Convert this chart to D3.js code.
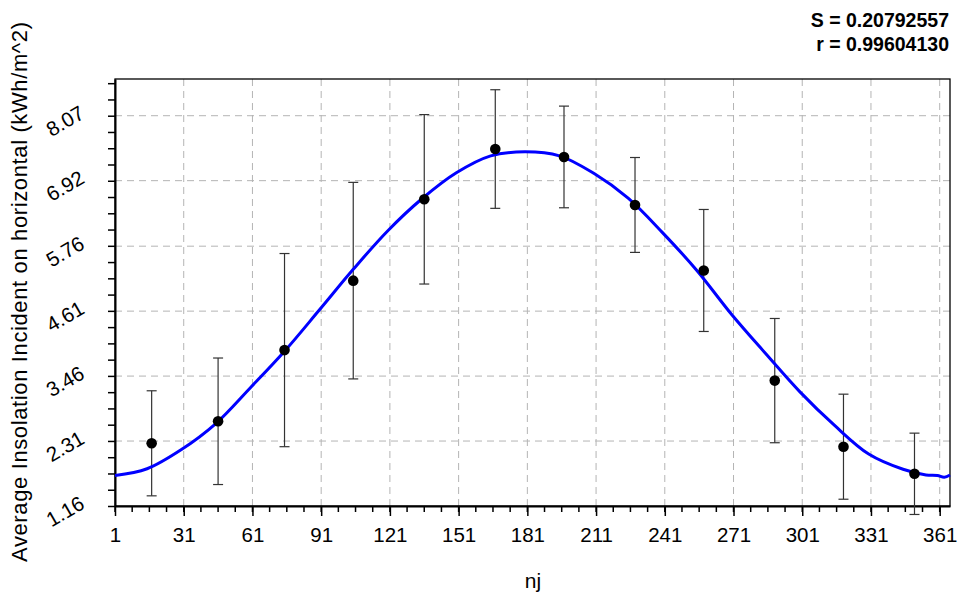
<!DOCTYPE html>
<html>
<head>
<meta charset="utf-8">
<script src="https://cdn.jsdelivr.net/npm/d3@7"></script>
<style>
body{margin:0;background:#fff;}
text{font-family:"Liberation Sans",Arial,Helvetica,sans-serif;fill:#000;}
</style>
</head>
<body>
<svg id="chart" width="958" height="593"></svg>
<script>
// monthly measurements (day of year, mean, +/- error)
var days  = [17, 46, 75, 105, 136, 167, 197, 228, 258, 289, 319, 350];
var means = [2.27, 2.66, 3.92, 5.15, 6.59, 7.48, 7.34, 6.49, 5.33, 3.38, 2.21, 1.73];
var errs  = [0.93, 1.12, 1.71, 1.74, 1.50, 1.05, 0.90, 0.84, 1.08, 1.10, 0.93, 0.72];

// fitted curve
var fitDays   = [1, 15, 30, 45, 60, 75, 90, 105, 120, 135, 150, 165, 180, 195, 210, 225, 240, 255, 270, 285, 300, 315, 330, 345, 355, 360, 363, 365.5];
var fitValues = [1.70, 1.82, 2.16, 2.62, 3.25, 3.90, 4.62, 5.35, 6.03, 6.60, 7.06, 7.36, 7.43, 7.36, 7.05, 6.61, 6.00, 5.33, 4.56, 3.86, 3.18, 2.59, 2.08, 1.81, 1.71, 1.70, 1.67, 1.71];

var xTicks = [1, 31, 61, 91, 121, 151, 181, 211, 241, 271, 301, 331, 361];
var yTicks = [1.16, 2.31, 3.46, 4.61, 5.76, 6.92, 8.07];
var statLines = ["S = 0.20792557", "r = 0.99604130"];
var xTitle = "nj";
var yTitle = "Average Insolation Incident on horizontal (kWh/m^2)";

var plotL = 115, plotT = 79, plotR = 950, plotB = 506;
var svg = d3.select("#chart");

var x = d3.scaleLinear().domain([1, 365.5]).range([plotL, plotR]);
var y = d3.scaleLinear().domain([1.16, 8.72]).range([plotB, plotT]);

// minor ticks: quarters between majors
var xMinor = d3.range(1, 365.5, 7.5);
var yStep = (yTicks[yTicks.length-1] - yTicks[0]) / (yTicks.length - 1);
var yMinor = d3.range(0, 27).map(function(k){ return 1.16 + k * yStep / 4; });

// grid
var grid = svg.append("g").attr("stroke", "#b4b4b4").attr("stroke-width", 1).attr("stroke-dasharray", "7,5");
grid.selectAll("line.v").data(xTicks.slice(1)).enter().append("line")
  .attr("x1", d => x(d)).attr("x2", d => x(d)).attr("y1", plotT).attr("y2", plotB);
grid.selectAll("line.h").data(yTicks.slice(1)).enter().append("line")
  .attr("x1", plotL).attr("x2", plotR).attr("y1", d => y(d)).attr("y2", d => y(d));

// frame
svg.append("rect").attr("x", plotL).attr("y", plotT).attr("width", plotR-plotL).attr("height", plotB-plotT)
  .attr("fill", "none").attr("stroke", "#000").attr("stroke-width", 1.3);

// x axis
var xAxis = d3.axisBottom(x).tickValues(xTicks).tickSize(10).tickSizeOuter(0).tickPadding(11).tickFormat(d3.format("d"));
var gx = svg.append("g").attr("transform", "translate(0," + plotB + ")").call(xAxis)
  .attr("font-size", 20.5).attr("font-family", null);
gx.select(".domain").attr("stroke-width", 2);
gx.selectAll(".tick line").attr("stroke-width", 1.5);
gx.append("g").selectAll("line").data(xMinor).enter().append("line")
  .attr("x1", d => x(d)).attr("x2", d => x(d)).attr("y1", 0).attr("y2", 6)
  .attr("stroke", "#000").attr("stroke-width", 1.5);

// y axis
var yAxis = d3.axisLeft(y).tickValues(yMinor).tickSize(7).tickSizeOuter(0).tickFormat("");
var gy = svg.append("g").attr("transform", "translate(" + plotL + ",0)").call(yAxis);
gy.select(".domain").attr("stroke-width", 2);
gy.selectAll(".tick line").attr("stroke-width", 1.5);
svg.append("g").selectAll("text").data(yTicks).enter().append("text")
  .attr("transform", d => "translate(" + (plotL - 29) + "," + (y(d) + 1.5) + ") rotate(-30)")
  .attr("text-anchor", "end").attr("font-size", 20.5)
  .text(d => d.toFixed(2));

// error bars
var pts = days.map(function(d, i){ return {day: d, v: means[i], e: errs[i]}; });
var eb = svg.append("g").attr("stroke", "#333").attr("stroke-width", 1.2);
eb.selectAll("line.bar").data(pts).enter().append("line")
  .attr("x1", d => x(d.day)).attr("x2", d => x(d.day))
  .attr("y1", d => y(d.v + d.e)).attr("y2", d => y(d.v - d.e));
eb.selectAll("line.capt").data(pts).enter().append("line")
  .attr("x1", d => x(d.day) - 5).attr("x2", d => x(d.day) + 5)
  .attr("y1", d => y(d.v + d.e)).attr("y2", d => y(d.v + d.e));
eb.selectAll("line.capb").data(pts).enter().append("line")
  .attr("x1", d => x(d.day) - 5).attr("x2", d => x(d.day) + 5)
  .attr("y1", d => y(d.v - d.e)).attr("y2", d => y(d.v - d.e));

// fitted curve
var line = d3.line().curve(d3.curveCatmullRom)
  .x(function(d, i){ return x(fitDays[i]); })
  .y(function(d){ return y(d); });
svg.append("path").datum(fitValues).attr("d", line)
  .attr("fill", "none").attr("stroke", "#0000ff").attr("stroke-width", 3);

// points
svg.append("g").selectAll("circle").data(pts).enter().append("circle")
  .attr("cx", d => x(d.day)).attr("cy", d => y(d.v)).attr("r", 5.3).attr("fill", "#000");

// titles
svg.append("text").attr("x", 533).attr("y", 588).attr("text-anchor", "middle")
  .attr("font-size", 21).text(xTitle);
svg.append("text").attr("transform", "translate(27,292) rotate(-90)")
  .attr("text-anchor", "middle").attr("font-size", 22)
  .attr("textLength", 540).attr("lengthAdjust", "spacing").text(yTitle);
svg.append("g").selectAll("text").data(statLines).enter().append("text")
  .attr("x", 949).attr("y", (d, i) => 27 + i * 24).attr("text-anchor", "end")
  .attr("font-size", 19.5).attr("font-weight", "bold").text(d => d);
</script>
</body>
</html>
